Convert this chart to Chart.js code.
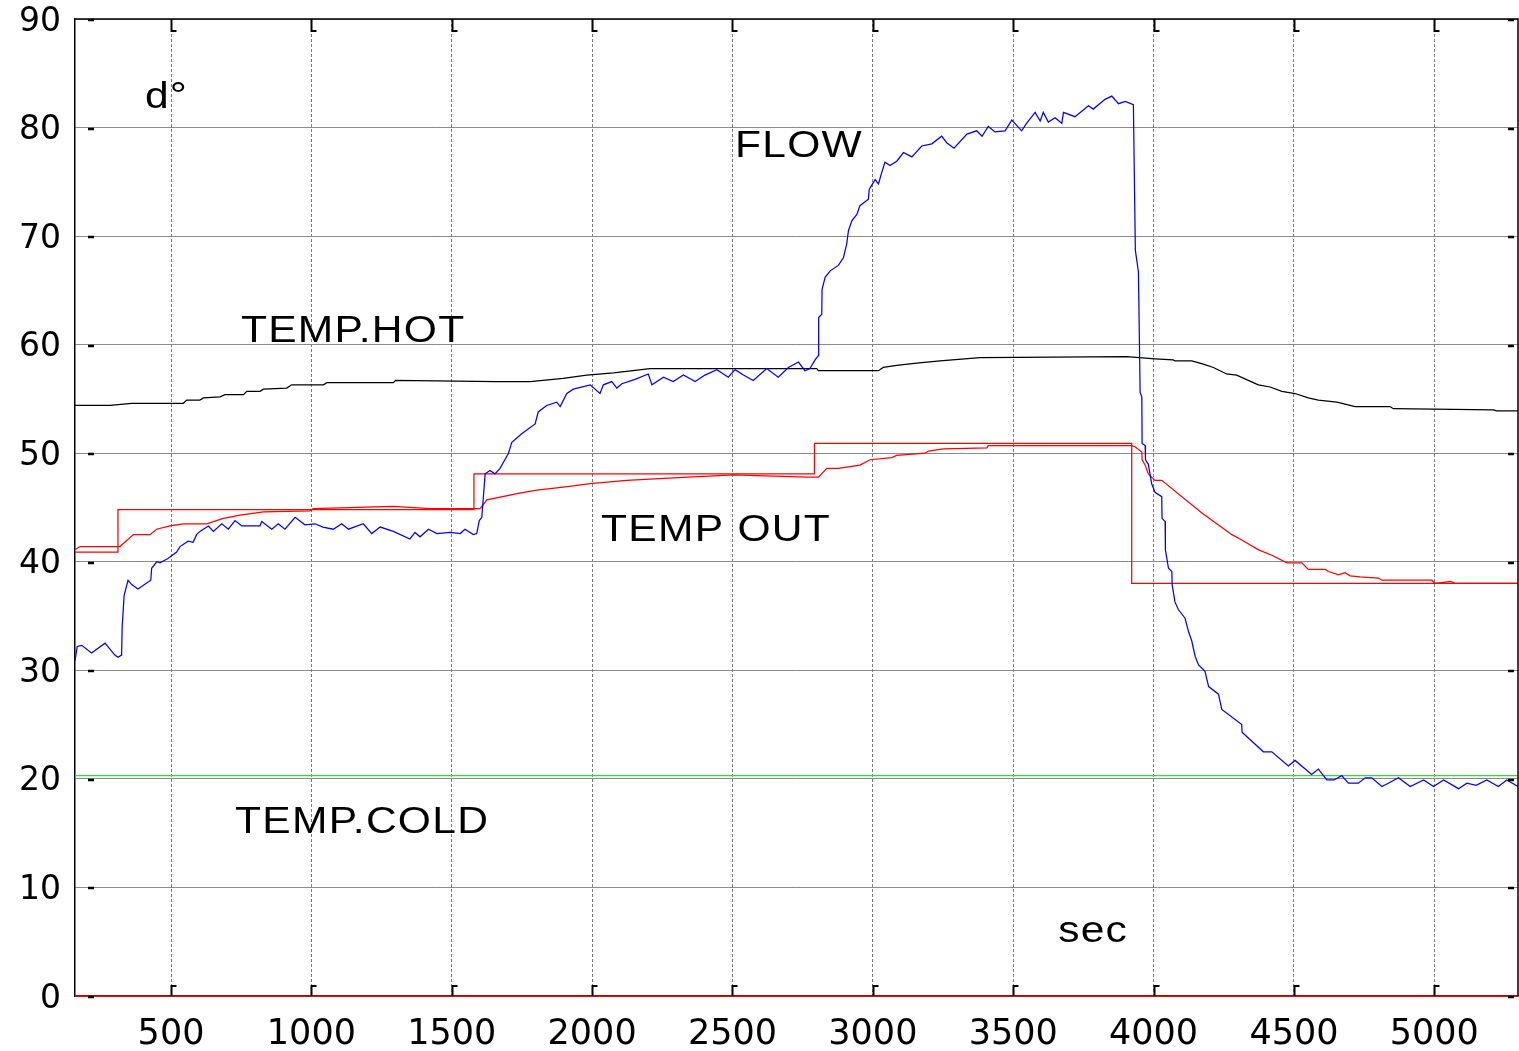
<!DOCTYPE html>
<html><head><meta charset="utf-8">
<script src="https://cdn.jsdelivr.net/npm/chart.js@4.4.1/dist/chart.umd.min.js"></script>
<style>html,body{margin:0;padding:0;background:#fff;overflow:hidden}#wrap{width:1519px;height:1051px;position:relative}</style>
</head><body><div id="wrap"><canvas id="c"></canvas></div>
<script>
const xTicks = [500,1000,1500,2000,2500,3000,3500,4000,4500,5000];
const yTicks = [0,10,20,30,40,50,60,70,80,90];

const flowT = [158,166,182,217,265,300,311,324,326,333,347,360,382,428,431,449,461,489,520,532,561,579,591,603,633,651,681,704,728,752,817,823,859,882,906,942,977,1013,1041,1078,1108,1132,1185,1215,1245,1292,1351,1369,1387,1417,1447,1494,1530,1547,1577,1589,1598,1607,1619,1636,1654,1672,1702,1714,1749,1797,1808,1838,1874,1886,1910,1933,1993,2028,2040,2070,2088,2106,2153,2200,2213,2254,2289,2325,2367,2402,2444,2485,2509,2539,2574,2622,2663,2699,2735,2758,2776,2794,2806,2807,2818,2819,2830,2848,2877,2895,2907,2913,2925,2943,2954,2984,2987,3008,3020,3032,3043,3061,3085,3109,3139,3174,3210,3245,3263,3289,3335,3370,3389,3411,3435,3471,3495,3530,3548,3578,3596,3607,3625,3649,3673,3679,3720,3768,3785,3827,3851,3875,3899,3928,3935,3946,3952,3958,3959,3970,3971,3981,3993,4005,4029,4030,4041,4042,4053,4065,4066,4076,4088,4112,4124,4136,4148,4160,4183,4196,4231,4243,4314,4315,4391,4421,4480,4504,4563,4587,4617,4643,4670,4694,4729,4754,4777,4813,4836,4872,4914,4962,4997,5033,5086,5116,5149,5187,5228,5258,5298];
const flowV = [30.9,32.2,32.3,31.6,32.5,31.4,31.2,31.4,34.0,36.9,38.3,37.9,37.5,38.3,39.4,40.0,39.9,40.3,40.9,41.4,41.9,41.8,42.5,42.8,43.3,42.8,43.5,43.0,43.8,43.3,43.3,43.7,43.0,43.5,43.0,44.1,43.4,43.5,43.2,43.0,43.5,43.0,43.5,42.6,43.2,42.8,42.1,42.7,42.3,43.0,42.6,42.7,42.6,43.0,42.5,42.6,43.8,44.1,48.1,48.4,48.1,48.6,50.0,51.0,51.8,52.7,53.8,54.4,54.7,54.3,55.5,55.9,56.3,55.5,56.3,56.6,56.0,56.4,56.8,57.3,56.3,57.0,56.6,57.2,56.6,57.2,57.7,57.0,57.7,57.2,56.7,57.8,57.0,57.9,58.4,57.6,57.8,58.6,59.0,62.5,62.8,65.1,66.2,66.8,67.3,68.0,69.3,70.5,71.4,72.0,72.8,73.4,74.3,75.2,74.8,75.9,76.8,76.5,76.9,77.7,77.3,78.3,78.5,79.2,78.6,78.1,79.4,79.7,79.2,80.1,79.6,79.7,80.7,79.7,80.4,81.4,80.6,81.4,80.5,80.9,80.4,81.4,81.0,82.0,81.7,82.6,82.9,82.2,82.4,82.1,68.7,66.7,55.6,55.2,50.9,50.7,49.4,49.0,47.2,46.4,46.0,44.0,43.7,41.1,39.4,39.1,37.9,36.3,35.6,34.8,33.6,32.7,31.3,30.5,29.9,28.5,27.8,26.4,25.0,24.3,22.5,22.5,21.2,21.7,20.4,20.9,19.9,19.9,20.3,19.6,19.6,20.1,20.1,19.3,19.6,20.1,19.3,19.9,19.3,19.9,19.1,19.6,19.4,19.9,19.3,19.9,19.3];

const hotT = [158,283,360,544,556,603,615,675,692,758,770,817,829,912,930,1043,1055,1292,1300,1660,1780,1897,1981,2076,2206,2800,2806,3020,3037,3085,3156,3239,3382,3904,4005,4070,4076,4136,4177,4213,4260,4296,4373,4415,4457,4504,4551,4587,4653,4718,4842,4854,5210,5222,5298];
const hotV = [54.4,54.4,54.6,54.6,54.9,54.9,55.1,55.2,55.4,55.4,55.7,55.7,55.9,56.0,56.3,56.3,56.5,56.5,56.7,56.6,56.6,56.9,57.2,57.4,57.8,57.8,57.6,57.6,57.9,58.1,58.3,58.5,58.8,58.9,58.7,58.6,58.5,58.5,58.2,57.9,57.3,57.2,56.3,56.1,55.7,55.5,55.1,54.9,54.7,54.3,54.3,54.1,54.0,53.9,53.9];

const outT = [158,176,318,366,425,449,496,544,627,686,746,829,995,1007,1291,1423,1601,1625,1737,1803,1874,1933,1993,2123,2272,2503,2765,2806,2836,2877,2954,2990,3067,3085,3186,3198,3251,3406,3411,3922,3934,3958,3959,3970,3981,4005,4029,4172,4225,4279,4314,4374,4421,4475,4528,4551,4611,4623,4659,4682,4700,4735,4801,4813,4991,5003,5059,5075,5298];
const outV = [41.1,41.4,41.4,42.5,42.5,43.0,43.3,43.5,43.5,44.0,44.3,44.6,44.7,44.9,45.1,44.9,44.9,45.7,46.3,46.6,46.8,47.0,47.2,47.5,47.7,48.0,47.8,47.8,48.6,48.6,48.9,49.4,49.6,49.8,50.0,50.2,50.4,50.5,50.7,50.7,50.6,50.1,49.4,48.9,48.1,47.5,47.5,44.5,43.5,42.5,42.0,41.1,40.6,39.9,39.9,39.3,39.3,39.1,38.8,39.0,38.7,38.6,38.5,38.3,38.3,38.0,38.2,38.0,38.0];

const setT = [158,311,1579,2792,3922,5298];
const setV = [40.9,44.8,48.1,50.9,38.0,38.0];

const coldT = [158,5298];
const coldV = [20.3,20.3];
const zeroT = [158,5298];
const zeroV = [0,0];

const labelTexts = ['d°','FLOW','TEMP.HOT','TEMP OUT','TEMP.COLD','sec'];
const labelT = [407,2509,749,2032,728,3660];
const labelV = [81.8,77.3,60.2,41.9,15.0,5.0];

const mk = (T,V) => T.map((t,i)=>({x:t,y:V[i]}));
const base = {pointRadius:0, borderWidth:1.25, tension:0, fill:false, clip:false};

const deco = {
  id:'deco',
  afterDatasetsDraw(chart){
    const {ctx, chartArea:a, scales:{x,y}} = chart;
    ctx.save();
    ctx.strokeStyle='#000'; ctx.lineWidth=1.5;
    ctx.beginPath(); ctx.moveTo(a.left,a.top); ctx.lineTo(a.right,a.top); ctx.lineTo(a.right,a.bottom); ctx.stroke();
    ctx.lineWidth=2;
    xTicks.forEach(v=>{
      const px = Math.round(x.getPixelForValue(v))+0.5;
      ctx.beginPath(); ctx.moveTo(px,a.bottom); ctx.lineTo(px,a.bottom-10); ctx.lineTo(px+5,a.bottom-10); ctx.stroke();
      ctx.beginPath(); ctx.moveTo(px,a.top); ctx.lineTo(px,a.top+12); ctx.lineTo(px+5,a.top+12); ctx.stroke();
    });
    ctx.lineWidth=2.5;
    yTicks.forEach(v=>{
      const py = Math.round(y.getPixelForValue(v))+1;
      ctx.beginPath(); ctx.moveTo(a.left+13,py); ctx.lineTo(a.left+19,py); ctx.stroke();
      ctx.beginPath(); ctx.moveTo(a.right-10,py); ctx.lineTo(a.right-4,py); ctx.stroke();
    });
    ctx.fillStyle='#000';
    ctx.font='37px "Liberation Sans", Arial, sans-serif';
    ctx.textBaseline='alphabetic'; ctx.textAlign='left';
    try { ctx.letterSpacing='1.1px'; } catch(e) {}
    labelTexts.forEach((t,i)=>{
      ctx.save();
      ctx.translate(x.getPixelForValue(labelT[i]), y.getPixelForValue(labelV[i]));
      ctx.scale(1.15,1);
      ctx.fillText(t,0,0);
      ctx.restore();
    });
    ctx.restore();
  }
};

new Chart(document.getElementById('c'), {
  type:'line',
  data:{datasets:[
    Object.assign({label:'TEMP.ZERO', data:mk(zeroT,zeroV), borderColor:'#ff0000'}, base, {borderWidth:1.6}),
    Object.assign({label:'FLOW', data:mk(flowT,flowV), borderColor:'#0000ff'}, base),
    Object.assign({label:'TEMP.HOT', data:mk(hotT,hotV), borderColor:'#000000'}, base),
    Object.assign({label:'TEMP OUT', data:mk(outT,outV), borderColor:'#ff0000'}, base),
    Object.assign({label:'TEMP OUT SET', data:mk(setT,setV), borderColor:'#ff0000', stepped:'before'}, base),
    Object.assign({label:'TEMP.COLD', data:mk(coldT,coldV), borderColor:'#2ee02e'}, base)
  ]},
  options:{
    responsive:true, maintainAspectRatio:false, animation:false, devicePixelRatio:1,
    layout:{padding:{top:19,right:1,left:0,bottom:0}},
    plugins:{legend:{display:false}, tooltip:{enabled:false}},
    scales:{
      x:{type:'linear', min:158, max:5298,
        afterBuildTicks:s=>{s.ticks = xTicks.map(v=>({value:v}));},
        afterFit:s=>{s.height=55; s.paddingLeft=0; s.paddingRight=0;},
        grid:{color:'#7a7a7a', lineWidth:1, drawTicks:false},
        border:{display:true, color:'#000', width:1.5, dash:[3,2]},
        ticks:{color:'#000', font:{family:'"DejaVu Sans"', size:35}, padding:18, maxRotation:0, autoSkip:false, callback:v=>String(v)}
      },
      y:{type:'linear', min:0, max:90,
        afterBuildTicks:s=>{s.ticks = yTicks.map(v=>({value:v}));},
        afterFit:s=>{s.width=75; s.paddingTop=0; s.paddingBottom=0;},
        grid:{color:'#8a8a8a', lineWidth:1, drawTicks:false},
        border:{display:true, color:'#000', width:1.5},
        ticks:{color:'#000', font:{family:'"DejaVu Sans"', size:33}, padding:14, labelOffset:3, autoSkip:false, callback:v=>String(v)}
      }
    }
  },
  plugins:[deco]
});
</script></body></html>
